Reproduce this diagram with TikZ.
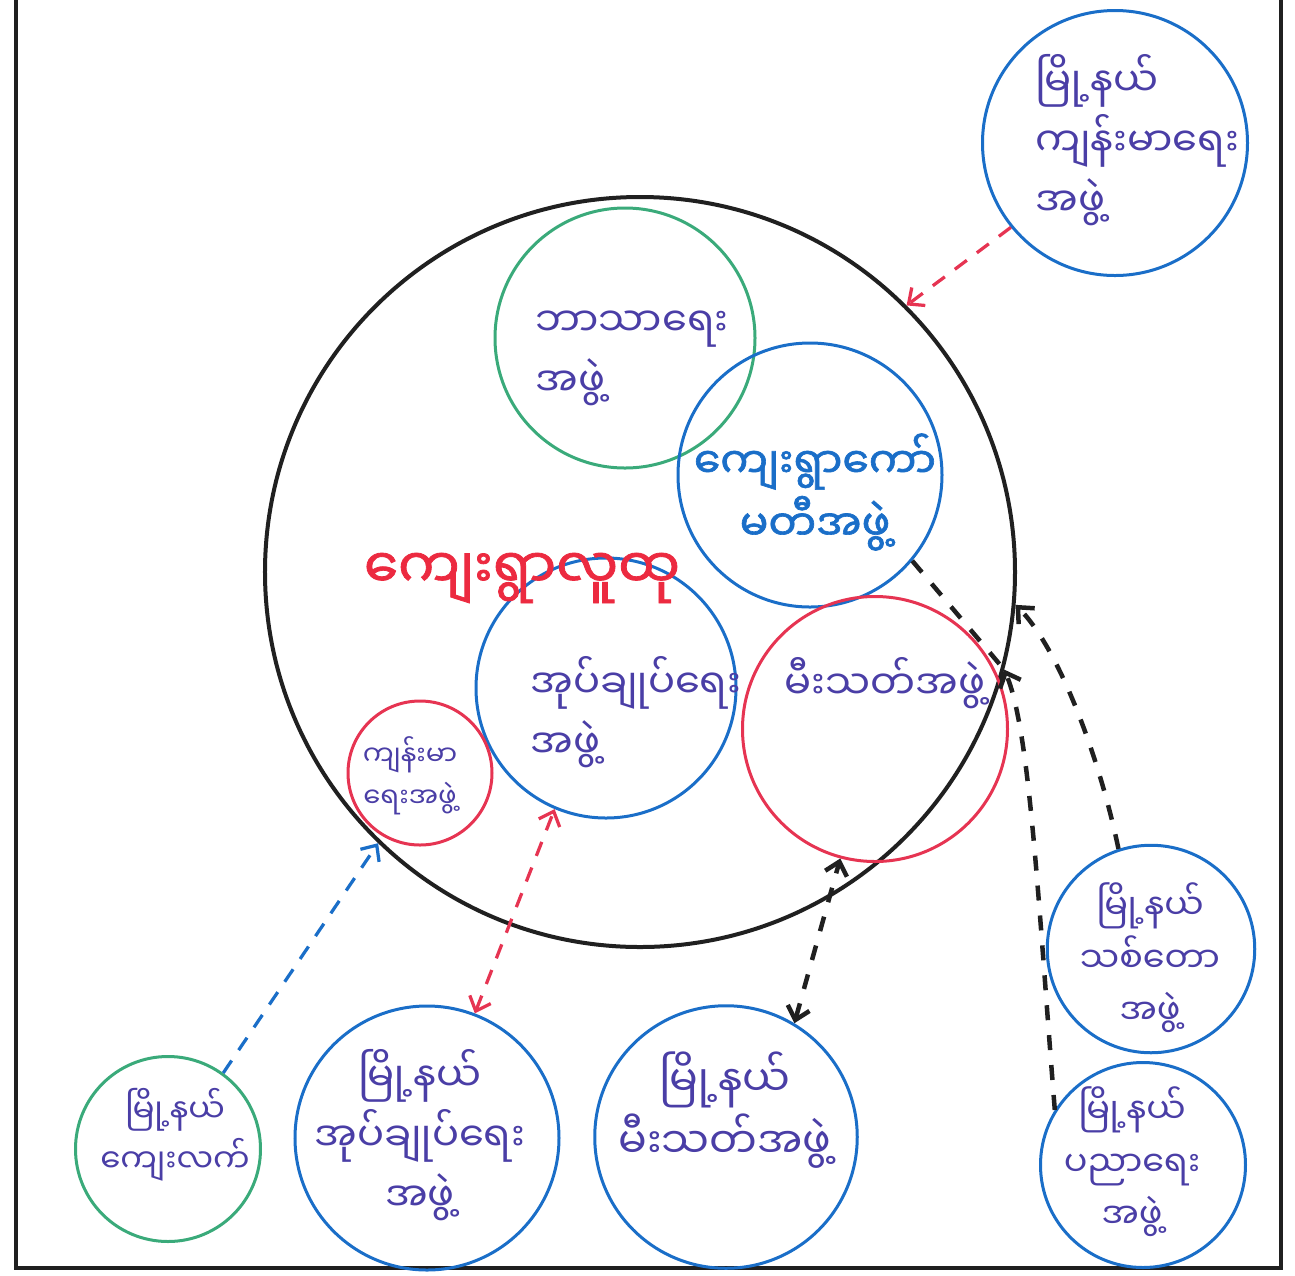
\documentclass[tikz,border=0pt]{standalone}
\usepackage{fontspec}
\newfontfamily\mm[Script=Myanmar]{Noto Sans Myanmar UI}
\newfontfamily\mmb[Script=Myanmar,FakeBold=1.5]{Noto Sans Myanmar UI}
\usetikzlibrary{arrows.meta}
\definecolor{cgreen}{HTML}{3AAA7A}
\definecolor{cblue}{HTML}{1A6EC8}
\definecolor{cred}{HTML}{E63452}
\definecolor{ctext}{HTML}{4A3EA6}
\definecolor{cdark}{HTML}{202020}
\definecolor{ctitle}{HTML}{EC2A40}
\tikzset{
  ring/.style={circle, draw, inner sep=0pt, line width=1.2pt},
  lbl/.style={font=\mm\fontsize{16}{24}\selectfont, text=ctext, align=center, inner sep=0pt},
  con/.style={dash pattern=on 6pt off 5pt, line width=1.3pt},
  bcon/.style={dash pattern=on 6pt off 6pt, line width=1.8pt, cdark},
  tip/.style={-{Straight Barb[length=5pt,width=9pt]}},
  dtip/.style={{Straight Barb[length=5pt,width=9pt]}-{Straight Barb[length=5pt,width=9pt]}},
}
\begin{document}
\begin{tikzpicture}[x=0.4pt,y=-0.4pt]
\useasboundingbox (0,0) rectangle (1295,1275);
% frame
\draw[line width=1.6pt, cdark] (16,-10) -- (16,1268) -- (1281,1268) -- (1281,-10);
% circles
\node[ring, draw=cdark, line width=1.6pt, minimum size=300pt] (village) at (640,572) {};
\node[ring, draw=cgreen, minimum size=104pt] (religion) at (625,338) {};
\node[ring, draw=cblue, minimum size=105.6pt] (committee) at (810,475) {};
\node[ring, draw=cblue, minimum size=104pt] (admin) at (606,688) {};
\node[ring, draw=cred, minimum size=106pt] (fire) at (875,729) {};
\node[ring, draw=cred, minimum size=57.6pt] (health) at (420,773) {};
\node[ring, draw=cblue, minimum size=106pt] (tHealth) at (1115,143) {};
\node[ring, draw=cgreen, minimum size=74pt] (tRural) at (168,1149) {};
\node[ring, draw=cblue, minimum size=105.6pt] (tAdmin) at (427,1138) {};
\node[ring, draw=cblue, minimum size=105pt] (tFire) at (726,1137) {};
\node[ring, draw=cblue, minimum size=83pt] (tForest) at (1151,949) {};
\node[ring, draw=cblue, minimum size=82pt] (tEdu) at (1143,1165) {};
% texts
\node[lbl, align=left, anchor=west] (religionT) at (535,358) {ဘာသာရေး\\အဖွဲ့};
\node[lbl, font=\mmb\fontsize{17}{25}\selectfont, text=cblue] (committeeT) at (815,492) {ကျေးရွာကော်\\မတီအဖွဲ့};
\node[font=\mmb\fontsize{22}{28}\selectfont, text=ctitle, inner sep=0pt] (title) at (522,578) {ကျေးရွာလူထု};
\node[lbl, align=left, anchor=west] (adminT) at (530,712) {အုပ်ချုပ်ရေး\\အဖွဲ့};
\node[lbl] (fireT) at (885,683) {မီးသတ်အဖွဲ့};
\node[lbl, font=\mm\fontsize{11}{17}\selectfont] (healthT) at (410,776) {ကျန်းမာ\\ရေးအဖွဲ့};
\node[lbl, align=left, anchor=west] (tHealthT) at (1035,140) {မြို့နယ်\\ကျန်းမာရေး\\အဖွဲ့};
\node[lbl, font=\mm\fontsize{13}{20}\selectfont] (tRuralT) at (175,1135) {မြို့နယ်\\ကျေးလက်};
\node[lbl] (tAdminT) at (420,1135) {မြို့နယ်\\အုပ်ချုပ်ရေး\\အဖွဲ့};
\node[lbl, font=\mm\fontsize{17}{25}\selectfont] (tFireT) at (725,1110) {မြို့နယ်\\မီးသတ်အဖွဲ့};
\node[lbl, font=\mm\fontsize{14}{21}\selectfont] (tForestT) at (1150,958) {မြို့နယ်\\သစ်တော\\အဖွဲ့};
\node[lbl, font=\mm\fontsize{14}{21}\selectfont] (tEduT) at (1132,1162) {မြို့နယ်\\ပညာရေး\\အဖွဲ့};
% connectors
\draw[con, cred, tip] (tHealth.219) -- (village.45);
\draw[con, cblue, tip] (tRural.54) -- (village.226);
\draw[con, cred, dtip] (tAdmin.69) -- (admin.247);
\draw[bcon, dtip] (tFire.59) -- (fire.255);
\draw[bcon, tip] (tForest.108) .. controls (1100,760) and (1060,650) .. (village.-5);
\coordinate (eduIn) at (village.-15);
\draw[bcon, tip] (tEdu.148) .. controls (1038,900) and (1030,730) .. (eduIn);
\draw[bcon] (committee.-40) -- (eduIn);
\end{tikzpicture}
\end{document}
